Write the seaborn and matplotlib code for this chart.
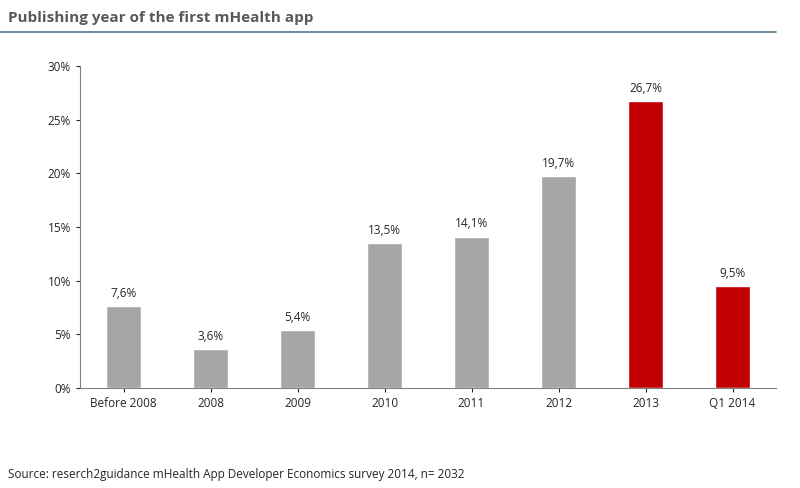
import matplotlib
matplotlib.use('Agg')
import matplotlib.pyplot as plt
import seaborn as sns
from matplotlib.ticker import FuncFormatter

categories = ['Before 2008', '2008', '2009', '2010', '2011', '2012', '2013', 'Q1 2014']
values = [7.6, 3.6, 5.4, 13.5, 14.1, 19.7, 26.7, 9.5]
colors = ['#a6a6a6'] * 6 + ['#c00000'] * 2

sns.set_style('white')
plt.rcParams['font.family'] = ['Open Sans', 'DejaVu Sans']

fig = plt.figure(figsize=(8, 4.88), dpi=100)
ax = fig.add_axes([0.1, 0.205, 0.87, 0.66])
sns.barplot(x=categories, y=values, hue=categories, palette=colors, width=0.4,
            saturation=1, legend=False, ax=ax)
for i, v in enumerate(values):
    ax.text(i, v + 0.6, f'{v:.1f}%'.replace('.', ','), ha='center', va='bottom', fontsize=8.5)
ax.set_ylim(0, 30)
ax.set_xlim(-0.5, 7.5)
ax.set_yticks(range(0, 31, 5))
ax.yaxis.set_major_formatter(FuncFormatter(lambda v, p: f'{v:.0f}%'))
ax.tick_params(labelsize=8.5, length=3, direction='out', left=True, bottom=True)
for s in ['top', 'right']:
    ax.spines[s].set_visible(False)
for s in ['left', 'bottom']:
    ax.spines[s].set_color('#808080')
    ax.spines[s].set_linewidth(0.8)

fig.text(0.01, 0.955, 'Publishing year of the first mHealth app', fontsize=11,
         fontweight='bold', color='#595959')
fig.add_artist(plt.Line2D([0.0, 0.97], [0.935, 0.935], color='#4f7a8a', lw=1.2))
fig.text(0.01, 0.02, 'Source: reserch2guidance mHealth App Developer Economics survey 2014, n= 2032',
         fontsize=8.5)

fig.savefig('out.png', dpi=100)
